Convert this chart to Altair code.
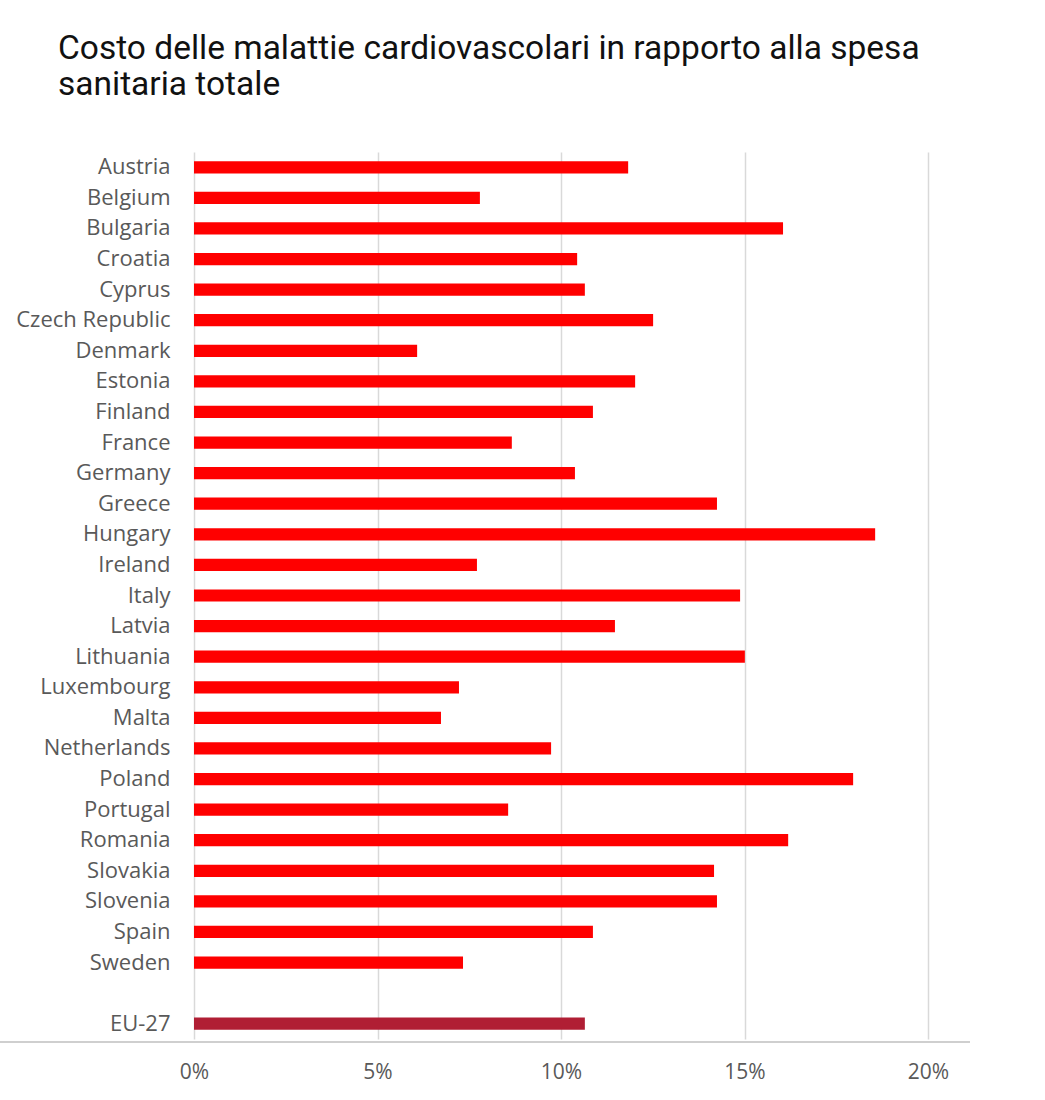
import altair as alt
import pandas as pd

countries = ["Austria", "Belgium", "Bulgaria", "Croatia", "Cyprus", "Czech Republic",
             "Denmark", "Estonia", "Finland", "France", "Germany", "Greece", "Hungary",
             "Ireland", "Italy", "Latvia", "Lithuania", "Luxembourg", "Malta",
             "Netherlands", "Poland", "Portugal", "Romania", "Slovakia", "Slovenia",
             "Spain", "Sweden"]
values = [11.83, 7.79, 16.05, 10.44, 10.65, 12.51, 6.08, 12.02, 10.87, 8.66, 10.38,
          14.25, 18.56, 7.71, 14.88, 11.47, 15.01, 7.22, 6.73, 9.73, 17.96, 8.56,
          16.19, 14.17, 14.25, 10.87, 7.33]
eu_label = "EU-27"
eu_value = 10.65
x_ticks = [0, 5, 10, 15, 20]

df = pd.DataFrame({
    "paese": countries + [eu_label],
    "valore": values + [eu_value],
    "gruppo": ["Paese"] * len(countries) + ["UE"],
})
domain = countries + [" "] + [eu_label]

bars = alt.Chart(df).mark_bar().encode(
    x=alt.X("valore:Q", scale=alt.Scale(domain=[0, 20], nice=False),
            axis=alt.Axis(values=x_ticks, labelExpr="datum.value + '%'", grid=True,
                          gridColor="#d9d9d9", gridWidth=1.5, domain=False, ticks=False,
                          labelFlush=False, labelPadding=22, labelFont="Open Sans",
                          labelFontSize=21, labelColor="#595959", title=None)),
    y=alt.Y("paese:N", sort=domain,
            scale=alt.Scale(domain=domain, paddingInner=0.6, paddingOuter=0.3),
            axis=alt.Axis(domain=False, ticks=False, labelPadding=24, labelFont="Open Sans",
                          labelFontSize=22, labelColor="#595959", title=None, grid=False)),
    color=alt.Color("gruppo:N", scale=alt.Scale(domain=["Paese", "UE"],
                                                 range=["#FF0000", "#B01E34"]), legend=None),
)

baseline = alt.Chart(df).mark_rule(color="#cfcfcf", strokeWidth=2, clip=False).encode(
    x=alt.value(-194), x2=alt.value(776), y=alt.value(890)
)

chart = alt.layer(bars, baseline).properties(
    width=734, height=887,
    background="white",
    autosize=alt.AutoSizeParams(type="none"),
    padding={"left": 194, "top": 152, "right": 117, "bottom": 61},
    title=alt.TitleParams(
        text=["Costo delle malattie cardiovascolari in rapporto alla spesa", "sanitaria totale"],
        anchor="start", frame="group", dx=-136, offset=50, font="Roboto", fontSize=33.5,
        fontWeight="normal", color="#111111", lineHeight=36,
    ),
).configure_view(strokeWidth=0, stroke="transparent")

chart.save("out.html", embed_options={"renderer": "svg", "actions": False})
